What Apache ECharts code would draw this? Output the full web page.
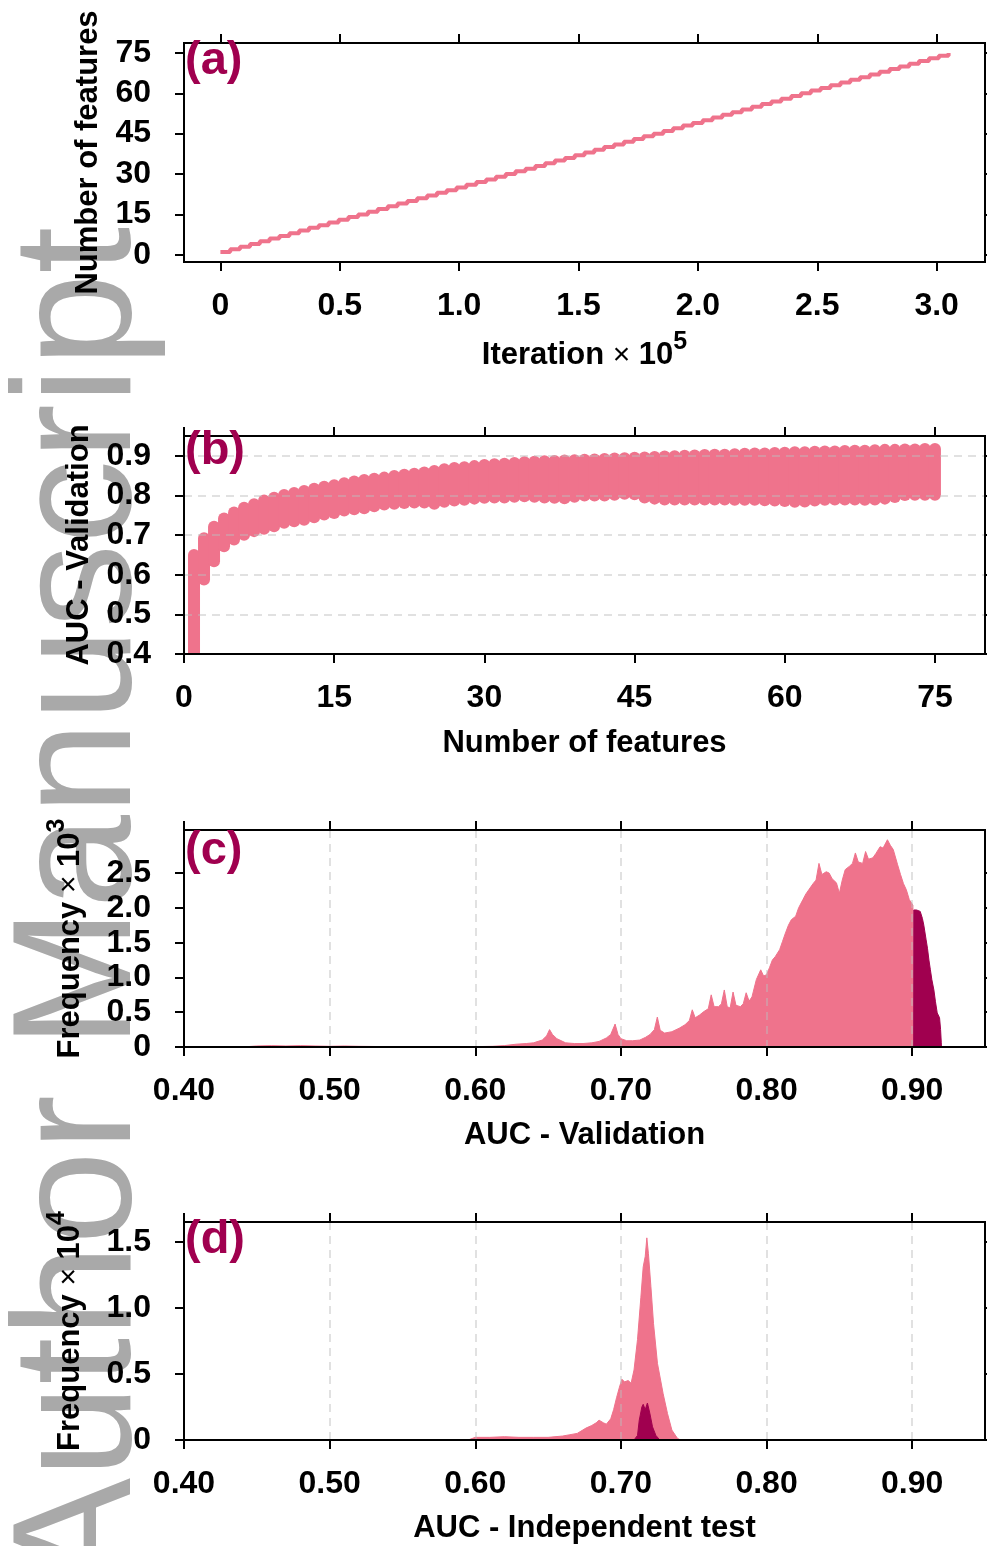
<!DOCTYPE html>
<html><head><meta charset="utf-8">
<script src="https://cdn.jsdelivr.net/npm/echarts@6/dist/echarts.min.js"></script>
<style>html,body{margin:0;padding:0;background:#fff}#c{width:987px;height:1546px}</style>
</head><body><div id="c"></div>
<script>
const PINK = '#ef738c';
const DARK = '#a0004f';
const FONT = 'Liberation Sans';

// (a) iteration (x 10^5) at which each number of features is reached
const iterationSteps = [0.000,0.041,0.082,0.124,0.165,0.206,0.247,0.289,0.330,0.371,0.412,0.453,0.495,0.536,0.577,0.618,0.659,0.701,0.742,0.783,0.824,0.866,0.907,0.948,0.989,1.030,1.072,1.113,1.154,1.195,1.236,1.278,1.319,1.360,1.401,1.443,1.484,1.525,1.566,1.607,1.649,1.690,1.731,1.772,1.814,1.855,1.896,1.937,1.978,2.020,2.061,2.102,2.143,2.184,2.226,2.267,2.308,2.349,2.391,2.432,2.473,2.514,2.555,2.597,2.638,2.679,2.720,2.761,2.803,2.844,2.885,2.926,2.968,3.009,3.050];
const featureCounts = [1,2,3,4,5,6,7,8,9,10,11,12,13,14,15,16,17,18,19,20,21,22,23,24,25,26,27,28,29,30,31,32,33,34,35,36,37,38,39,40,41,42,43,44,45,46,47,48,49,50,51,52,53,54,55,56,57,58,59,60,61,62,63,64,65,66,67,68,69,70,71,72,73,74,75];

// (b) AUC validation range per number of features
const aucValMax = [0.650,0.692,0.721,0.742,0.757,0.769,0.778,0.787,0.794,0.801,0.806,0.811,0.817,0.822,0.826,0.831,0.835,0.839,0.842,0.845,0.849,0.852,0.855,0.858,0.862,0.866,0.869,0.871,0.874,0.877,0.879,0.880,0.882,0.884,0.885,0.886,0.887,0.888,0.889,0.890,0.891,0.892,0.893,0.894,0.895,0.896,0.897,0.898,0.899,0.900,0.901,0.902,0.903,0.903,0.904,0.905,0.906,0.906,0.907,0.908,0.909,0.909,0.910,0.911,0.911,0.912,0.913,0.913,0.914,0.915,0.915,0.916,0.916,0.917,0.917];
const aucValMin = [0.300,0.588,0.634,0.672,0.689,0.701,0.710,0.716,0.722,0.731,0.735,0.739,0.745,0.752,0.756,0.762,0.765,0.768,0.773,0.777,0.779,0.781,0.782,0.782,0.779,0.784,0.787,0.789,0.792,0.794,0.795,0.795,0.797,0.798,0.797,0.795,0.794,0.793,0.797,0.800,0.800,0.800,0.802,0.804,0.803,0.795,0.792,0.790,0.790,0.790,0.790,0.790,0.790,0.790,0.789,0.789,0.789,0.788,0.787,0.786,0.784,0.785,0.787,0.789,0.790,0.790,0.790,0.789,0.790,0.792,0.796,0.801,0.802,0.802,0.802];

// (c) histogram of validation AUC (frequency x 10^3)
const valAuc  = [0.440,0.441,0.450,0.460,0.470,0.480,0.490,0.500,0.510,0.520,0.540,0.560,0.580,0.600,0.612,0.620,0.628,0.635,0.640,0.646,0.649,0.651,0.653,0.656,0.662,0.668,0.674,0.680,0.685,0.690,0.693,0.696,0.698,0.700,0.704,0.708,0.713,0.717,0.720,0.723,0.725,0.727,0.730,0.735,0.740,0.744,0.747,0.749,0.751,0.754,0.757,0.760,0.762,0.764,0.767,0.769,0.771,0.773,0.775,0.777,0.779,0.782,0.784,0.786,0.788,0.790,0.793,0.796,0.798,0.800,0.802,0.804,0.806,0.809,0.811,0.813,0.815,0.817,0.820,0.822,0.825,0.827,0.829,0.832,0.834,0.836,0.838,0.841,0.843,0.845,0.848,0.850,0.852,0.854,0.857,0.859,0.861,0.863,0.866,0.868,0.870,0.873,0.875,0.878,0.880,0.883,0.885,0.887,0.890,0.892,0.894,0.896,0.898,0.9005,0.9006];
const valFreq = [0,0.010,0.015,0.020,0.015,0.020,0.015,0.010,0.015,0.010,0.005,0.005,0.005,0.005,0.010,0.020,0.040,0.050,0.060,0.100,0.160,0.250,0.180,0.120,0.060,0.050,0.050,0.060,0.080,0.130,0.180,0.330,0.180,0.120,0.090,0.090,0.100,0.140,0.180,0.250,0.430,0.240,0.200,0.220,0.270,0.320,0.380,0.535,0.420,0.460,0.510,0.550,0.750,0.580,0.580,0.620,0.820,0.580,0.560,0.790,0.600,0.580,0.620,0.780,0.660,0.720,0.970,1.110,1.020,1.040,1.140,1.250,1.300,1.400,1.520,1.640,1.750,1.830,1.880,2.000,2.120,2.200,2.260,2.350,2.400,2.640,2.480,2.520,2.500,2.420,2.360,2.210,2.400,2.550,2.600,2.640,2.790,2.660,2.640,2.810,2.700,2.720,2.780,2.880,2.860,2.980,2.900,2.840,2.620,2.480,2.350,2.260,2.120,2.040,0];
const valAucTop  = [0.9010,0.9011,0.903,0.9055,0.907,0.908,0.9095,0.9105,0.9115,0.9125,0.9135,0.9149,0.916,0.9172,0.9188,0.9195,0.9200,0.9201];
const valFreqTop = [0,1.97,1.97,1.95,1.85,1.75,1.55,1.42,1.25,1.11,0.97,0.82,0.65,0.49,0.42,0.25,0.06,0];

// (d) histogram of independent-test AUC (frequency x 10^4)
const testAuc  = [0.595,0.596,0.600,0.610,0.620,0.630,0.640,0.650,0.660,0.665,0.670,0.676,0.680,0.683,0.685,0.688,0.690,0.693,0.695,0.697,0.699,0.7007,0.7025,0.705,0.707,0.709,0.7114,0.7137,0.7153,0.7167,0.7178,0.7189,0.7206,0.7224,0.7251,0.729,0.732,0.735,0.7388,0.741];
const testFreq = [0,0.010,0.020,0.020,0.025,0.020,0.020,0.020,0.030,0.040,0.050,0.090,0.110,0.130,0.150,0.130,0.120,0.160,0.230,0.320,0.400,0.460,0.440,0.450,0.430,0.530,0.760,1.080,1.310,1.390,1.530,1.410,1.160,0.880,0.580,0.350,0.200,0.075,0.013,0];
const testAucTop  = [0.709,0.7095,0.7114,0.7126,0.7144,0.7153,0.7167,0.7182,0.7199,0.7217,0.724,0.7263,0.7265];
const testFreqTop = [0,0.005,0.035,0.150,0.250,0.270,0.230,0.280,0.200,0.100,0.035,0.005,0];

// tick labels
const ticksAx = [0,0.5,1.0,1.5,2.0,2.5,3.0];
const ticksAy = [0,15,30,45,60,75];
const ticksBx = [0,15,30,45,60,75];
const ticksBy = [0.4,0.5,0.6,0.7,0.8,0.9];
const ticksCDx = [0.40,0.50,0.60,0.70,0.80,0.90];
const ticksCy = [0,0.5,1.0,1.5,2.0,2.5];
const ticksDy = [0,0.5,1.0,1.5];

const zip = (a, b) => a.map((v, i) => [v, b[i]]);
const lbl = {color:'#000', fontSize:32, fontWeight:'bold', fontFamily:FONT};
const tick = (vals) => ({show:true, inside:false, length:9, lineStyle:{color:'#000', width:2}, customValues: vals});
const line = {show:true, onZero:false, lineStyle:{color:'#000', width:2}};
const grid = (top, h) => ({left:184, right:2, top:top, height:h, show:true, borderColor:'#000', borderWidth:2, backgroundColor:'transparent'});
const dashed = {show:true, lineStyle:{type:[8,6], color:'rgba(190,190,190,0.6)', width:1.5}};
const richName = {
  t:{fontSize:31, fontWeight:'bold', fontFamily:FONT, color:'#000', lineHeight:31},
  m:{fontSize:30, fontWeight:'normal', fontFamily:FONT, color:'#000', lineHeight:31},
  s:{fontSize:25, fontWeight:'bold', fontFamily:FONT, color:'#000', lineHeight:31, padding:[0,0,26,0]}
};
const nameStyle = {fontSize:31, fontWeight:'bold', fontFamily:FONT, color:'#000', lineHeight:31, rich: richName};

function xPair(gi, min, max, ticks, fmt, name, gap, extra) {
  return [
    Object.assign({gridIndex:gi, type:'value', min:min, max:max, position:'bottom', z:3,
      axisLine:line, axisTick:tick(ticks),
      axisLabel:Object.assign({customValues:ticks, formatter:fmt, margin:28}, lbl),
      splitLine:{show:false}, name:name, nameLocation:'middle', nameGap:gap, nameTextStyle:nameStyle}, extra || {}),
    {gridIndex:gi, type:'value', min:min, max:max, position:'top', z:3,
      axisLine:line, axisTick:tick(ticks), axisLabel:{show:false}, splitLine:{show:false}}
  ];
}
function yPair(gi, min, max, ticks, fmt, name, gap, extra) {
  return [
    Object.assign({gridIndex:gi, type:'value', min:min, max:max, position:'left', z:3,
      axisLine:line, axisTick:tick(ticks),
      axisLabel:Object.assign({customValues:ticks, formatter:fmt, margin:33}, lbl),
      splitLine:{show:false}, name:name, nameLocation:'middle', nameGap:gap, nameRotate:90, nameTextStyle:nameStyle}, extra || {}),
    {gridIndex:gi, type:'value', min:min, max:max, position:'right', z:3,
      axisLine:line, axisTick:tick(ticks), axisLabel:{show:false}, splitLine:{show:false}}
  ];
}
const f1 = v => v === 0 ? '0' : v.toFixed(1);
const f0 = v => String(Math.round(v));
const f2 = v => v.toFixed(2);

const xAxes = [].concat(
  xPair(0, -0.1525, 3.2025, ticksAx, f1, '{t|Iteration }{m|×}{t| 10}{s|5}', 78),
  xPair(1, 0, 80, ticksBx, f0, 'Number of features', 74, {interval:15}),
  xPair(2, 0.40, 0.95, ticksCDx, f2, 'AUC - Validation', 73, {interval:0.05, splitLine:dashed}),
  xPair(3, 0.40, 0.95, ticksCDx, f2, 'AUC - Independent test', 73, {interval:0.05, splitLine:dashed})
);
const yAxes = [].concat(
  yPair(0, -2.7, 78.7, ticksAy, f0, 'Number of features', 80),
  yPair(1, 0.4, 0.95, ticksBy, f1, 'AUC - Validation', 89, {interval:0.1, splitLine:dashed}),
  yPair(2, 0, 3.12, ticksCy, f1, '{t|Frequency }{m|×}{t| 10}{s|3}', 83),
  yPair(3, 0, 1.65, ticksDy, f1, '{t|Frequency }{m|×}{t| 10}{s|4}', 83)
);

const areaSeries = (ai, xs, ys, color) => ({
  type:'line', xAxisIndex:ai, yAxisIndex:ai, data:zip(xs, ys), showSymbol:false, symbol:'none',
  lineStyle:{color:color, width:1}, areaStyle:{color:color, opacity:1}, z:2, silent:true
});

const panelLabel = (txt, x, y) => ({type:'text', x:x, y:y, z:50,
  style:{text:txt, fill:DARK, font:'bold 47px "Liberation Sans"', textAlign:'left', align:'left', textVerticalAlign:'top', verticalAlign:'top'}});

const option = {
  animation:false,
  textStyle:{fontFamily:FONT},
  grid:[grid(43,219), grid(436,218), grid(830,217), grid(1222,218)],
  xAxis:xAxes,
  yAxis:yAxes,
  graphic:[
    {type:'text', x:168, y:1590, rotation:Math.PI/2, z:-10, silent:true,
      style:{text:'Author Manuscript', fill:'#a9a9a9', font:'168px "Liberation Sans"', textAlign:'left', align:'left', textVerticalAlign:'bottom', verticalAlign:'bottom'}},
    panelLabel('(a)', 185, 38),
    panelLabel('(b)', 185, 428),
    panelLabel('(c)', 185, 828),
    panelLabel('(d)', 185, 1217)
  ],
  series:[
    {type:'line', xAxisIndex:0, yAxisIndex:0, data:zip(iterationSteps, featureCounts), step:'end',
      showSymbol:false, symbol:'none', lineStyle:{color:PINK, width:4}, silent:true},
    {type:'custom', xAxisIndex:2, yAxisIndex:2, clip:true, silent:true,
      data:featureCounts.map((k, i) => [k, aucValMin[i], aucValMax[i]]),
      encode:{x:0, y:[1,2]},
      renderItem:function(params, api){
        const hi = api.coord([api.value(0), api.value(2)]);
        const lo = api.coord([api.value(0), api.value(1)]);
        const w = 12;
        return {type:'rect', shape:{x:hi[0]-w/2, y:hi[1]-w/2, width:w, height:lo[1]-hi[1]+w, r:w/2}, style:{fill:PINK}};
      }},
    areaSeries(4, valAuc, valFreq, PINK),
    areaSeries(4, valAucTop, valFreqTop, DARK),
    areaSeries(6, testAuc, testFreq, PINK),
    areaSeries(6, testAucTop, testFreqTop, DARK)
  ]
};
const chart = echarts.init(document.getElementById('c'), null, {renderer:'canvas'});
chart.setOption(option);
</script></body></html>
